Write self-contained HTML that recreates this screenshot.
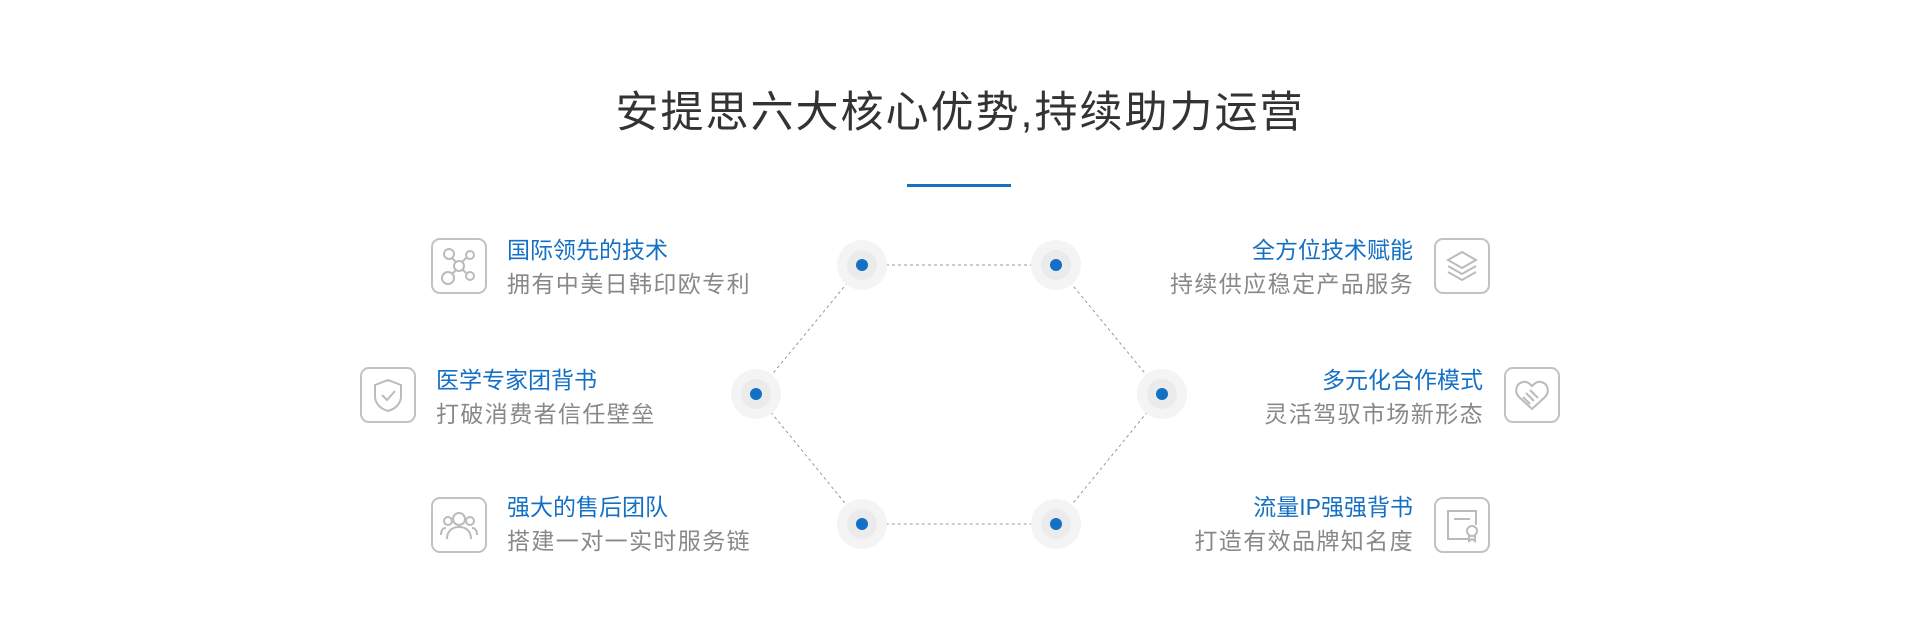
<!DOCTYPE html>
<html><head><meta charset="utf-8"><style>
html,body{margin:0;padding:0;background:#fff;}
body{width:1920px;height:643px;position:relative;overflow:hidden;font-family:"Liberation Sans","Noto Sans CJK SC",sans-serif;}
.t{position:absolute;white-space:nowrap;line-height:1;}
.h{font-size:23px;color:#1470c4;}
.s{font-size:23px;color:#888;letter-spacing:1.4px;}
.r{text-align:right;}
.ic{position:absolute;width:52px;height:52px;border:2px solid #c2c2c2;border-radius:9px;}
.ic svg{position:absolute;left:0;top:0;}
</style></head><body>
<div class="t" style="left:0;width:1920px;text-align:center;top:92px;font-size:43px;color:#333;letter-spacing:2px;">安提思六大核心优势,持续助力运营</div>
<div style="position:absolute;left:907px;top:184px;width:104px;height:3px;background:#1470c4;"></div>

<svg width="1920" height="643" style="position:absolute;left:0;top:0">
<g stroke="#9a9a9a" stroke-width="1" stroke-dasharray="3,3" fill="none">
<path d="M862 265 L1056 265 L1162 394 L1056 524 L862 524 L756 394 Z"/>
</g>
<g>
<circle cx="862" cy="265" r="25" fill="#f4f4f4"/><circle cx="862" cy="265" r="15" fill="#ebebeb"/><circle cx="862" cy="265" r="6" fill="#1470c4"/>
<circle cx="1056" cy="265" r="25" fill="#f4f4f4"/><circle cx="1056" cy="265" r="15" fill="#ebebeb"/><circle cx="1056" cy="265" r="6" fill="#1470c4"/>
<circle cx="756" cy="394" r="25" fill="#f4f4f4"/><circle cx="756" cy="394" r="15" fill="#ebebeb"/><circle cx="756" cy="394" r="6" fill="#1470c4"/>
<circle cx="1162" cy="394" r="25" fill="#f4f4f4"/><circle cx="1162" cy="394" r="15" fill="#ebebeb"/><circle cx="1162" cy="394" r="6" fill="#1470c4"/>
<circle cx="862" cy="524" r="25" fill="#f4f4f4"/><circle cx="862" cy="524" r="15" fill="#ebebeb"/><circle cx="862" cy="524" r="6" fill="#1470c4"/>
<circle cx="1056" cy="524" r="25" fill="#f4f4f4"/><circle cx="1056" cy="524" r="15" fill="#ebebeb"/><circle cx="1056" cy="524" r="6" fill="#1470c4"/>
</g>
</svg>

<!-- left -->
<div class="ic" style="left:431px;top:238px"><svg width="52" height="52" fill="none" stroke="#bbb" stroke-width="2"><circle cx="26" cy="26" r="5"/><circle cx="16" cy="14" r="5"/><circle cx="37" cy="15" r="4"/><circle cx="15" cy="38" r="6"/><circle cx="37" cy="36" r="4"/><path d="M19 18L23 22M33 18L29 22M19 34L23 30M33 33L30 30"/></svg></div>
<div class="t h" style="left:507px;top:239px">国际领先的技术</div>
<div class="t s" style="left:507px;top:273px">拥有中美日韩印欧专利</div>

<div class="ic" style="left:360px;top:367px"><svg width="52" height="52" fill="none" stroke="#bbb" stroke-width="2"><path d="M26 11L39 16V27C39 35 33 40 26 42C19 40 13 35 13 27V16Z"/><path d="M20 26L25 31L33 22"/></svg></div>
<div class="t h" style="left:436px;top:369px">医学专家团背书</div>
<div class="t s" style="left:436px;top:403px">打破消费者信任壁垒</div>

<div class="ic" style="left:431px;top:497px"><svg width="52" height="52" fill="none" stroke="#bbb" stroke-width="2"><circle cx="26" cy="20" r="6"/><path d="M14 40C14 32 19 28 26 28C33 28 38 32 38 40"/><circle cx="15" cy="22" r="4"/><circle cx="37" cy="22" r="4"/><path d="M8 36C8 31 10 29 13 29M44 36C44 31 42 29 39 29"/></svg></div>
<div class="t h" style="left:507px;top:496px">强大的售后团队</div>
<div class="t s" style="left:507px;top:530px">搭建一对一实时服务链</div>

<!-- right -->
<div class="ic" style="left:1434px;top:238px"><svg width="52" height="52" fill="none" stroke="#bbb" stroke-width="2"><path d="M26 12L40 20L26 28L12 20Z"/><path d="M12 26L26 34L40 26"/><path d="M12 32L26 40L40 32"/></svg></div>
<div class="t h r" style="left:1013px;width:400px;top:239px">全方位技术赋能</div>
<div class="t s r" style="left:1014px;width:400px;top:273px">持续供应稳定产品服务</div>

<div class="ic" style="left:1504px;top:367px"><svg width="52" height="52" fill="none" stroke="#bbb" stroke-width="2"><path d="M26 40L13 28C8 23 10 14 17 13C21 12 24 15 26 17C28 15 31 12 35 13C42 14 44 23 39 28Z"/><path d="M20 24L28 32M24 21L32 29M17 28L24 35"/></svg></div>
<div class="t h r" style="left:1083px;width:400px;top:369px">多元化合作模式</div>
<div class="t s r" style="left:1084px;width:400px;top:403px">灵活驾驭市场新形态</div>

<div class="ic" style="left:1434px;top:497px"><svg width="52" height="52" fill="none" stroke="#bbb" stroke-width="2"><path d="M34 40H12V12H40V26"/><path d="M18 20H34"/><circle cx="36" cy="32" r="5"/><path d="M33 36V42L36 40L39 42V36"/></svg></div>
<div class="t h r" style="left:1013px;width:400px;top:496px">流量IP强强背书</div>
<div class="t s r" style="left:1014px;width:400px;top:530px">打造有效品牌知名度</div>
</body></html>
